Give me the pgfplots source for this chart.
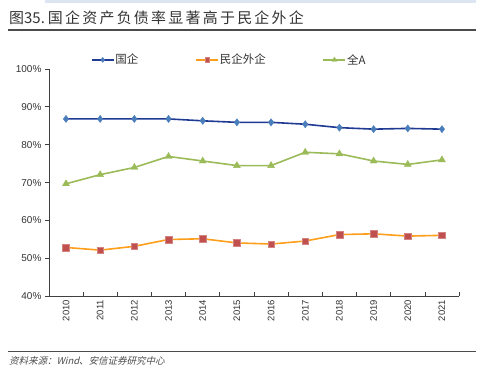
\documentclass[border=0pt]{standalone}
\usepackage{fontspec}
\setmainfont{Liberation Sans}
\newfontfamily\cjk{Noto Sans CJK SC}
\newfontfamily\cjktitle[LetterSpace=15]{Noto Sans CJK SC}
\newfontfamily\cjksrc[FakeSlant=0.25]{Noto Sans CJK SC}
\usepackage{pgfplots}
\pgfplotsset{compat=1.18}
\definecolor{navy}{HTML}{1F3A93}
\definecolor{lblue}{HTML}{4A7EBB}
\definecolor{orgl}{HTML}{FF9E1B}
\definecolor{redm}{HTML}{C0504D}
\definecolor{grn}{HTML}{9BBB59}
\definecolor{txt}{HTML}{333333}
\definecolor{band}{HTML}{DCE6F2}
\begin{document}
\begin{tikzpicture}
\path (0pt,0pt) rectangle (477pt,-383pt);
\fill[band] (45pt,0pt) rectangle (477pt,-3.5pt);
\node[anchor=west,inner sep=0pt,text=txt,font=\fontsize{15}{16}\selectfont] at (9pt,-18pt) {{\cjk 图35.}\hspace{3pt}{\cjktitle 国企资产负债率显著高于民企外企}};
\draw[line width=2pt,color=black!70] (8pt,-30pt) -- (477pt,-30pt);
\draw[line width=1.3pt,color=black!70] (8pt,-352pt) -- (477pt,-352pt);
\node[anchor=west,inner sep=0pt,text=black!70,font=\fontsize{9.5}{11}\selectfont\cjksrc] at (9pt,-362pt) {资料来源：Wind、安信证券研究中心};
\begin{axis}[
  at={(49pt,-297pt)}, anchor=south west,
  scale only axis, width=411pt, height=228pt,
  xmin=-0.5, xmax=11.5, ymin=40, ymax=100,
  axis lines=left, axis line style={-,color=black!75, line width=0.7pt},
  xtick={0,...,11},
  xticklabels={2010,2011,2012,2013,2014,2015,2016,2017,2018,2019,2020,2021},
  minor xtick={-0.5,0.5,...,11.5},
  major x tick style={draw=none},
  minor x tick style={color=black!75, line width=0.7pt},
  x tick label style={rotate=90, anchor=east, font=\fontsize{9.5}{11}\selectfont, text=txt},
  xtick align=inside,
  minor tick length=4pt,
  ytick={40,50,...,100},
  yticklabel={\pgfmathprintnumber{\tick}\%},
  y tick label style={font=\fontsize{10}{12}\selectfont, text=txt},
  ytick align=outside, major tick length=4pt,
  y tick style={color=black!75, line width=0.7pt},
  /pgf/number format/assume math mode=true,
  tick pos=left,
  legend columns=3,
  legend style={at={(0.102,1.0395)}, anchor=west, draw=none, fill=none,
    inner xsep=0pt, inner ysep=0pt,
    font=\fontsize{11.5}{13}\selectfont\cjk, text=txt,
    nodes={inner xsep=1pt, inner ysep=1pt},
    /tikz/every even column/.append style={column sep=56pt},
    /tikz/every odd column/.append style={column sep=0pt}},
  legend image code/.code={\draw[#1, every mark/.append style={scale=0.7}] (0pt,0pt) -- (11pt,0pt) plot coordinates {(11pt,0pt)} -- (22pt,0pt);},
  clip=false,
]
\addplot[navy, line width=1.6pt, mark=diamond*, mark size=3.6pt, mark options={fill=lblue, draw=lblue, line width=0.4pt}]
 coordinates {(0,86.8)(1,86.8)(2,86.8)(3,86.8)(4,86.3)(5,85.9)(6,85.9)(7,85.4)(8,84.5)(9,84.1)(10,84.3)(11,84.1)};
\addlegendentry{国企}
\addplot[orgl, line width=1.6pt, mark=square*, mark size=3.3pt, mark options={fill=redm, draw=redm!70, line width=0.4pt}]
 coordinates {(0,52.9)(1,52.2)(2,53.2)(3,55.0)(4,55.2)(5,54.1)(6,53.8)(7,54.6)(8,56.3)(9,56.5)(10,55.9)(11,56.1)};
\addlegendentry{民企外企}
\addplot[grn, line width=1.6pt, mark=triangle*, mark size=4pt, mark options={fill=grn, draw=grn, line width=0.4pt}]
 coordinates {(0,69.7)(1,72.1)(2,74.0)(3,76.9)(4,75.7)(5,74.5)(6,74.5)(7,78.0)(8,77.6)(9,75.7)(10,74.8)(11,76.0)};
\addlegendentry{全A}
\end{axis}
\end{tikzpicture}
\end{document}
